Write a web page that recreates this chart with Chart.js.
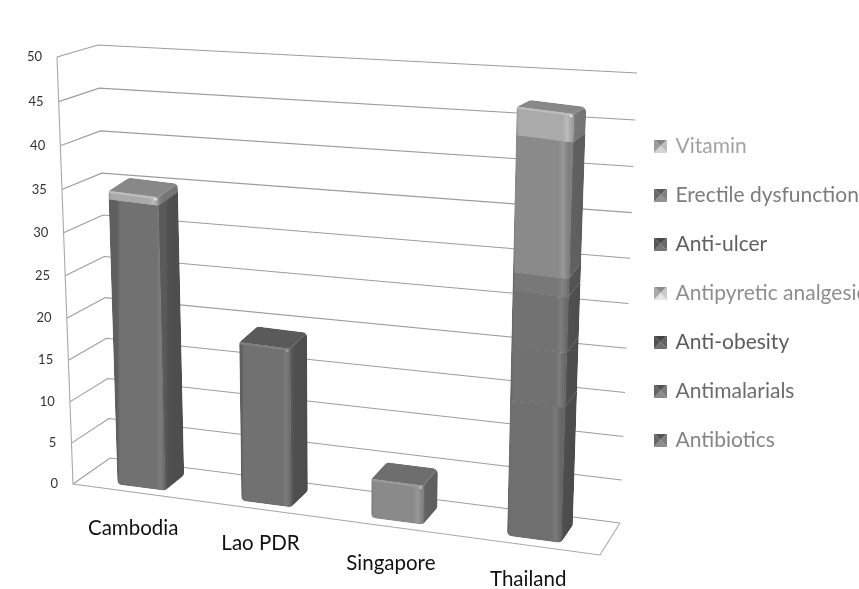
<!DOCTYPE html>
<html>
<head>
<meta charset="utf-8">
<style>html,body{margin:0;padding:0;background:#fff}canvas{display:block}</style>
<script src="https://cdn.jsdelivr.net/npm/chart.js@4"></script>
</head>
<body>
<canvas id="c" width="859" height="589"></canvas>
<script>
const categories = ['Cambodia', 'Lao PDR', 'Singapore', 'Thailand'];
const antibiotics = [0, 0, 0, 15];
const antimalarials = [33.5, 18.5, 0, 6];
const antiObesity = [0, 0, 0, 6];
const antipyretic = [0, 0, 0, 0];
const antiUlcer = [0, 0, 0, 2];
const erectile = [0, 0, 4.5, 14.4];
const vitamin = [1, 0, 0, 3];
const seriesNames = ['Antibiotics', 'Antimalarials', 'Anti-obesity', 'Antipyretic analgesic', 'Anti-ulcer', 'Erectile dysfunction', 'Vitamin'];
const seriesColors = ['#6f6f6f', '#717171', '#727272', '#b0b0b0', '#787878', '#8a8a8a', '#aaaaaa'];
const legendSwatch = ['#6c6c6c', '#6a6a6a', '#555555', '#b0b0b0', '#5a5a5a', '#707070', '#a4a4a4'];
const legendText = ['#858585', '#6c6c6c', '#5c5c5c', '#8e8e8e', '#606060', '#7c7c7c', '#a2a2a2'];
const yMax = 50, yStep = 5;
const labelNudgeX = [-7, -14, -18, -15];
const labelNudgeY = [0, 15, 35, 51];

/* 3D frame of the plot (projected box corners) */
const FL = [73, 485], FR = [600, 555], BL = [110, 458], BR = [620, 523];
const topFL = [57, 57], topBL = [98, 45], topBR = [637, 73];
const persp = t => t / (t + 1.05 * (1 - t));
const lerp = (p, q, t) => [p[0] + (q[0] - p[0]) * t, p[1] + (q[1] - p[1]) * t];
const floorAt = (a, d) => lerp(lerp(FL, FR, a), lerp(BL, BR, a), d);
const raise = (p, h) => [p[0] + 0.000137 * (p[0] - 343) * h, p[1] - h];

class PerspectiveScale extends Chart.LinearScale {
  static id = 'perspective';
  static defaults = Chart.LinearScale.defaults;
  getPixelForDecimal(d) { return super.getPixelForDecimal(persp(d)); }
  _computeLabelItems(area) {
    const items = super._computeLabelItems(area);
    items.forEach((it, i) => {
      const t = this.ticks[i].value / yMax;
      it.options.translation[0] += (topFL[0] - FL[0]) * t;
    });
    return items;
  }
}
class SlopedCategoryScale extends Chart.CategoryScale {
  static id = 'slopedCategory';
  static defaults = Chart.CategoryScale.defaults;
  _computeLabelItems(area) {
    const items = super._computeLabelItems(area);
    items.forEach((it, i) => {
      it.options.translation[0] += labelNudgeX[i];
      it.options.translation[1] += labelNudgeY[i];
    });
    return items;
  }
}
Chart.register(PerspectiveScale, SlopedCategoryScale);

function shade(hex, k) {
  const n = parseInt(hex.slice(1), 16);
  const c = s => Math.max(0, Math.min(255, Math.round(((n >> s) & 255) * k)));
  return `rgb(${c(16)},${c(8)},${c(0)})`;
}
function polyPath(ctx, pts, radii) {
  const n = pts.length;
  const s = [(pts[n - 1][0] + pts[0][0]) / 2, (pts[n - 1][1] + pts[0][1]) / 2];
  ctx.beginPath();
  ctx.moveTo(s[0], s[1]);
  for (let i = 0; i < n; i++) {
    const p = pts[i], q = pts[(i + 1) % n];
    if (radii) ctx.arcTo(p[0], p[1], q[0], q[1], radii[i]);
    else ctx.lineTo(p[0], p[1]);
  }
  ctx.closePath();
}
function drawBarSegment(ctx, chart, el, color, isTop, isBottom) {
  const xs = chart.scales.x, ys = chart.scales.y;
  const a0 = (el.x - xs.left) / (xs.right - xs.left);
  const a = a0 - 0.015 + (48 * (a0 - 0.5) * (a0 - 0.5) - 3.5) / 527;
  const hw = (el.width / (xs.right - xs.left)) * (0.89 + 0.16 * a) / 2;
  const k = 1 + 0.1 * a;
  const d0 = 0.2, d1 = 0.76;
  const h0 = (ys.bottom - el.base) * k;
  const h1 = (ys.bottom - el.y) * k + (isTop ? 0 : 0.6);
  const pFL = floorAt(a - hw, d0), pFR = floorAt(a + hw, d0), pBR = floorAt(a + hw, d1), pBL = floorAt(a - hw, d1);
  const rBack = (fp, bp, h) => {
    const p = raise(bp, h), f = raise(fp, h), s = Math.pow(h / 427, 4) * 0.6;
    return [p[0], p[1] + (f[1] - p[1]) * s];
  };
  const fl0 = raise(pFL, h0), fr0 = raise(pFR, h0), br0 = rBack(pFR, pBR, h0);
  const fl1 = raise(pFL, h1), fr1 = raise(pFR, h1), br1 = rBack(pFR, pBR, h1), bl1 = rBack(pFL, pBL, h1);
  const rb = isBottom ? 6 : 0.01, rt = isTop ? 6 : 0.01;

  ctx.save();
  const hull = isTop ? [fl0, fr0, br0, br1, bl1, fl1] : [fl0, fr0, br0, br1, fr1, fl1];
  const radii = isTop ? [rb, rb, rb, rt, rt, rt] : [rb, rb, rb, 0.01, 0.01, 0.01];
  polyPath(ctx, hull, radii);
  ctx.clip();

  const gs = ctx.createLinearGradient(fr0[0], 0, br0[0], 0);
  gs.addColorStop(0, shade(color, 0.8));
  gs.addColorStop(0.22, shade(color, 0.7));
  gs.addColorStop(1, shade(color, 0.68));
  polyPath(ctx, [fr0, br0, br1, fr1]);
  ctx.fillStyle = gs;
  ctx.fill();

  const gf = ctx.createLinearGradient(fl0[0], 0, fr0[0], 0);
  gf.addColorStop(0, shade(color, 0.84));
  gf.addColorStop(0.05, shade(color, 1));
  gf.addColorStop(0.82, shade(color, 1));
  gf.addColorStop(0.9, shade(color, 1.1));
  gf.addColorStop(1, shade(color, 0.92));
  polyPath(ctx, [fl0, [fr0[0] + 0.5, fr0[1]], [fr1[0] + 0.5, fr1[1]], fl1]);
  ctx.fillStyle = gf;
  ctx.fill();

  if (isTop) {
    polyPath(ctx, [fl1, fr1, br1, bl1]);
    ctx.fillStyle = shade(color, 0.8);
    ctx.fill();
    ctx.strokeStyle = shade(color, 1.12);
    ctx.lineWidth = 2;
    ctx.beginPath();
    ctx.moveTo(fl1[0] + 1, fl1[1] + 1);
    ctx.lineTo(fr1[0] - 2, fr1[1] + 1);
    ctx.stroke();
    ctx.fillStyle = shade(color, 1.35);
    ctx.beginPath();
    ctx.arc(fr1[0] - 2.5, fr1[1] + 2, 1.4, 0, Math.PI * 2);
    ctx.fill();
  }
  ctx.restore();
}

const bars3d = {
  id: 'bars3d',
  afterLayout(chart) {
    const lg = chart.legend;
    lg.left = 628;
    lg.top = 107.5;
  },
  beforeDatasetsDraw(chart) {
    const ys = chart.scales.y, ctx = chart.ctx;
    ctx.save();
    ctx.lineWidth = 1.1;
    ctx.strokeStyle = '#9c9c9c';
    ys.ticks.forEach(tick => {
      const t = persp(tick.value / yMax);
      const py = ys.getPixelForValue(tick.value);
      const front = [FL[0] + (topFL[0] - FL[0]) * t, py];
      const left = lerp(BL, topBL, t), right = lerp(BR, topBR, t);
      ctx.beginPath();
      ctx.moveTo(front[0], front[1]);
      ctx.lineTo(left[0], left[1]);
      ctx.lineTo(right[0], right[1]);
      ctx.stroke();
    });
    ctx.strokeStyle = '#a8a8a8';
    ctx.beginPath();
    ctx.moveTo(topFL[0], topFL[1]);
    ctx.lineTo(FL[0], FL[1] - 1);
    ctx.lineTo(FR[0], FR[1]);
    ctx.lineTo(BR[0], BR[1]);
    ctx.stroke();
    ctx.restore();
  },
  beforeDatasetDraw(chart, args) {
    const ctx = chart.ctx, di = args.index;
    const color = chart.data.datasets[di].backgroundColor;
    args.meta.data.forEach((el, i) => {
      const vals = chart.data.datasets.map(ds => ds.data[i]);
      if (!vals[di]) return;
      const isTop = vals.slice(di + 1).every(v => !v);
      const isBottom = vals.slice(0, di).every(v => !v);
      drawBarSegment(ctx, chart, el, color, isTop, isBottom);
    });
    return false;
  }
};

function swatch(color) {
  const s = 13, cv = document.createElement('canvas');
  cv.width = s; cv.height = s;
  const c = cv.getContext('2d');
  const tri = (pts, fill) => {
    c.fillStyle = fill;
    c.beginPath();
    pts.forEach((p, i) => i ? c.lineTo(p[0], p[1]) : c.moveTo(p[0], p[1]));
    c.closePath();
    c.fill();
  };
  const m = [s / 2, s / 2];
  tri([[0, 0], [s, 0], m], shade(color, 0.8));
  tri([[0, s], [s, s], m], shade(color, 1.3));
  tri([[0, 0], [0, s], m], shade(color, 0.95));
  tri([[s, 0], [s, s], m], shade(color, 1.15));
  return cv;
}

const dataSeries = [antibiotics, antimalarials, antiObesity, antipyretic, antiUlcer, erectile, vitamin];
new Chart(document.getElementById('c'), {
  type: 'bar',
  data: {
    labels: categories,
    datasets: dataSeries.map((d, i) => ({
      label: seriesNames[i],
      data: d,
      backgroundColor: seriesColors[i],
      categoryPercentage: 0.4,
      barPercentage: 1
    }))
  },
  plugins: [bars3d],
  options: {
    responsive: false,
    devicePixelRatio: 1,
    animation: false,
    layout: { padding: { left: 0, top: 57, bottom: 0, right: 0 } },
    scales: {
      x: {
        type: 'slopedCategory',
        stacked: true,
        afterFit(s) { s.height = 105; },
        grid: { display: false },
        border: { display: false },
        ticks: { font: { family: 'Lato', size: 20.5 }, color: '#111111', padding: 24, maxRotation: 0, autoSkip: false }
      },
      y: {
        type: 'perspective',
        stacked: true,
        min: 0,
        max: yMax,
        afterFit(s) { s.width = 73; },
        grid: { display: false },
        border: { display: false },
        ticks: { stepSize: yStep, font: { family: 'Lato', size: 13 }, color: '#333333', padding: 7 }
      }
    },
    plugins: {
      title: { display: false },
      tooltip: { enabled: false },
      legend: {
        display: true,
        position: 'right',
        align: 'start',
        maxWidth: 259,
        reverse: true,
        labels: {
          font: { family: 'Lato', size: 21 },
          padding: 28,
          boxWidth: 13,
          boxHeight: 13,
          usePointStyle: true,
          pointStyleWidth: 9,
          generateLabels(chart) {
            return Chart.defaults.plugins.legend.labels.generateLabels(chart).map(it => ({
              ...it,
              fontColor: legendText[it.datasetIndex],
              pointStyle: swatch(legendSwatch[it.datasetIndex]),
              lineWidth: 0
            }));
          }
        }
      }
    }
  }
});
</script>
</body>
</html>
